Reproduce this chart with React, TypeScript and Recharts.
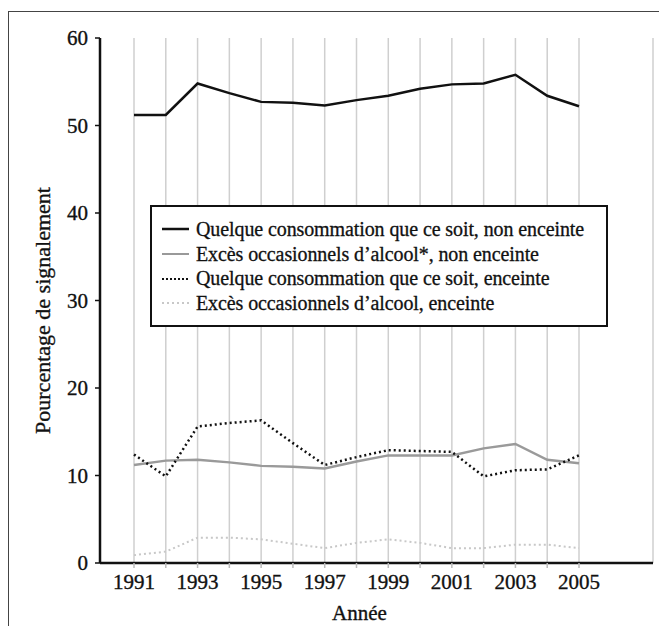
import React from 'react';
import { LineChart, Line, XAxis, YAxis, CartesianGrid, Legend, Label } from 'recharts';

const years = [1991, 1992, 1993, 1994, 1995, 1996, 1997, 1998, 1999, 2000, 2001, 2002, 2003, 2004, 2005];
const anyNonPregnant = [51.2, 51.2, 54.8, 53.7, 52.7, 52.6, 52.3, 52.9, 53.4, 54.2, 54.7, 54.8, 55.8, 53.4, 52.2];
const bingeNonPregnant = [11.2, 11.7, 11.8, 11.5, 11.1, 11.0, 10.8, 11.6, 12.3, 12.3, 12.3, 13.1, 13.6, 11.8, 11.4];
const anyPregnant = [12.4, 9.9, 15.6, 16.0, 16.3, 13.7, 11.2, 12.1, 12.9, 12.8, 12.7, 9.9, 10.6, 10.7, 12.3];
const bingePregnant = [0.9, 1.3, 2.9, 2.9, 2.7, 2.2, 1.7, 2.3, 2.7, 2.3, 1.7, 1.7, 2.1, 2.1, 1.7];
const yTicks = [0, 10, 20, 30, 40, 50, 60];
const labeledYears = [1991, 1993, 1995, 1997, 1999, 2001, 2003, 2005];

const seriesNames = [
  'Quelque consommation que ce soit, non enceinte',
  'Excès occasionnels d’alcool*, non enceinte',
  'Quelque consommation que ce soit, enceinte',
  'Excès occasionnels d’alcool, enceinte',
];

const data = years.map((y, i) => ({
  year: y,
  a: anyNonPregnant[i],
  b: bingeNonPregnant[i],
  c: anyPregnant[i],
  d: bingePregnant[i],
}));

const FONT = '"Liberation Serif", "DejaVu Serif", serif';
const textStyle = { fill: '#111', fontSize: 21, fontFamily: FONT, stroke: '#111', strokeWidth: 0.35 };

const legendStyles = [
  { stroke: '#111', dash: undefined as string | undefined, w: 2.5 },
  { stroke: '#999', dash: undefined as string | undefined, w: 2 },
  { stroke: '#111', dash: '2 2', w: 2 },
  { stroke: '#c8c8c8', dash: '2 3', w: 2 },
];

const LegendBox = () => (
  <div
    style={{
      border: '2px solid #111',
      background: '#fff',
      width: 454,
      height: 108,
      boxSizing: 'content-box',
      fontFamily: FONT,
      fontSize: 20,
      color: '#111',
      paddingTop: 10,
      WebkitTextStroke: '0.3px #111',
      whiteSpace: 'nowrap',
    }}
  >
    {seriesNames.map((n, i) => (
      <div key={n} style={{ display: 'flex', alignItems: 'center', height: 24.7 }}>
        <svg width={34} height={10} style={{ marginLeft: 10, flex: 'none' }}>
          <line x1={0} y1={5} x2={27} y2={5} stroke={legendStyles[i].stroke} strokeWidth={legendStyles[i].w} strokeDasharray={legendStyles[i].dash} />
        </svg>
        <span style={{ letterSpacing: -0.1 }}>{n}</span>
      </div>
    ))}
  </div>
);

export default function App() {
  return (
    <div style={{ position: 'relative', width: 659, height: 618 }}>
      <div
        style={{
          position: 'absolute',
          left: 0,
          top: 3,
          width: 659,
          height: 615,
          borderLeft: '1.5px solid #444',
          borderTop: '1.5px solid #444',
        }}
      />
      <LineChart
        width={659}
        height={618}
        data={data}
        margin={{ top: 30, right: 14, bottom: 6, left: 0 }}
        style={{ fontFamily: FONT }}
      >
        <CartesianGrid horizontal={false} stroke="#cfcfcf" strokeWidth={1.5} />
        <XAxis
          dataKey="year"
          type="number"
          domain={[1991, 2005]}
          ticks={years}
          interval={0}
          padding={{ left: 34, right: 74 }}
          tickFormatter={(v: number) => (labeledYears.includes(v) ? String(v) : '')}
          tick={textStyle}
          tickLine={{ stroke: '#bbb', strokeWidth: 1.5 }}
          tickSize={5}
          tickMargin={6}
          axisLine={{ stroke: '#111', strokeWidth: 2.5 }}
          height={57}
        >
          <Label value="Année" position="insideBottom" offset={0} dx={-17} style={textStyle} />
        </XAxis>
        <YAxis
          domain={[0, 60]}
          ticks={yTicks}
          interval={0}
          width={92}
          tick={textStyle}
          tickLine={{ stroke: '#111', strokeWidth: 1.5 }}
          tickSize={5}
          tickMargin={7}
          axisLine={{ stroke: '#111', strokeWidth: 2.5 }}
        >
          <Label
            value="Pourcentage  de signalement"
            angle={-90}
            position="center"
            dx={-12}
            dy={10}
            style={{ ...textStyle, fontSize: 22, whiteSpace: 'pre' }}
          />
        </YAxis>
        <Legend
          layout="vertical"
          align="center"
          verticalAlign="middle"
          content={() => <LegendBox />}
          wrapperStyle={{ position: 'absolute', left: 142, top: 197, width: 458 }}
        />
        <Line dataKey="d" stroke="#c8c8c8" strokeWidth={2} strokeDasharray="2 3" dot={false} isAnimationActive={false} />
        <Line dataKey="b" stroke="#9a9a9a" strokeWidth={2.5} dot={false} isAnimationActive={false} />
        <Line dataKey="c" stroke="#111" strokeWidth={2.5} strokeDasharray="2 3" dot={false} isAnimationActive={false} />
        <Line dataKey="a" stroke="#111" strokeWidth={2.5} dot={false} isAnimationActive={false} />
      </LineChart>
    </div>
  );
}
